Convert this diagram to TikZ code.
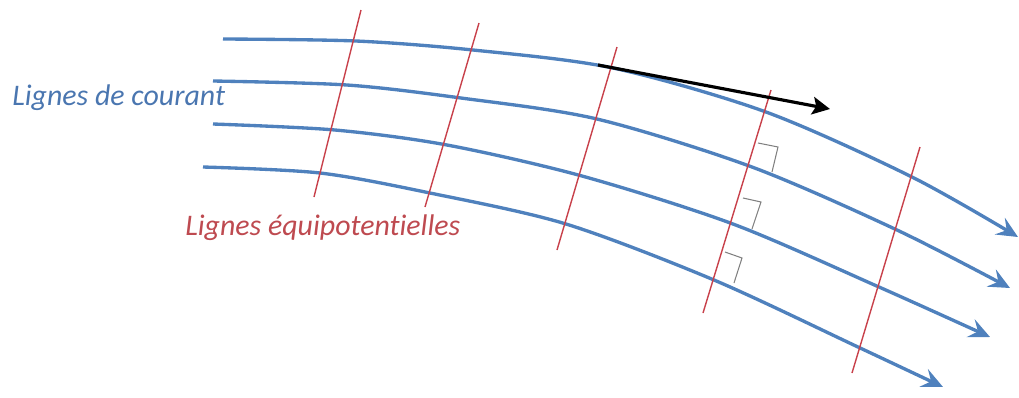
\documentclass[tikz,border=0pt]{standalone}
\usepackage{fontspec}
\setmainfont[Ligatures=NoCommon]{Carlito}
\usetikzlibrary{arrows.meta}
\definecolor{sblue}{HTML}{4F81BD}
\definecolor{sred}{HTML}{C8414B}
\definecolor{tblue}{HTML}{4A76B0}
\definecolor{tred}{HTML}{BE4A50}
\begin{document}
\begin{tikzpicture}[x=0.02cm,y=-0.02cm,
  stream/.style={draw=sblue,line width=1.9pt,-{Stealth[length=12pt,width=11pt,inset=4.5pt]}},
  equi/.style={draw=sred,line width=0.8pt},
  rightmark/.style={draw=gray,line width=0.6pt},
  velo/.style={draw=black,line width=1.8pt,-{Stealth[length=10pt,width=10pt,inset=2pt]}},
  lbl/.style={inner sep=0pt,anchor=base west,font=\itshape\fontsize{17}{20}\selectfont}]
\useasboundingbox (0,0) rectangle (1019,397);
% streamlines
\draw[stream] plot[smooth,tension=0.5] coordinates {(223,39) (356,41) (473,50) (613,68) (766,112) (912,177) (1018,237)};
\draw[stream] plot[smooth,tension=0.5] coordinates {(213,81) (347,85) (461,98) (597,119) (752,167) (897,230) (1010,288)};
\draw[stream] plot[smooth,tension=0.5] coordinates {(213,124) (335,130) (447,145) (582,176) (733,224) (879,287) (990,337)};
\draw[stream] plot[smooth,tension=0.5] coordinates {(203,167) (320,173) (430,193) (566,224) (714,280) (858,347) (943,387)};
% equipotentials
\coordinate (r1a) at (361,10); \coordinate (r1b) at (314,197);
\coordinate (r2a) at (479,23); \coordinate (r2b) at (425,207);
\coordinate (r3a) at (617,47); \coordinate (r3b) at (557,250);
\coordinate (r4a) at (771,90); \coordinate (r4b) at (703,313);
\coordinate (r5a) at (920,147); \coordinate (r5b) at (852,373);
\draw[equi] (r1a) -- (r1b);
\draw[equi] (r2a) -- (r2b);
\draw[equi] (r3a) -- (r3b);
\draw[equi] (r4a) -- (r4b);
\draw[equi] (r5a) -- (r5b);
% right-angle marks
\draw[rightmark] (758,143) -- (778,147) -- (772,172);
\draw[rightmark] (743,198) -- (761,202) -- (752,229);
\draw[rightmark] (725,252) -- (742,258) -- (734,283);
% velocity vector
\coordinate (v0) at (598,65);
\coordinate (v1) at (830,109);
\draw[velo] (v0) -- (v1);
% labels
\node[lbl,text=tblue] (courant) at (12,105) {Lignes de courant};
\node[lbl,text=tred] (equip) at (185,235) {Lignes équipotentielles};
\end{tikzpicture}
\end{document}
